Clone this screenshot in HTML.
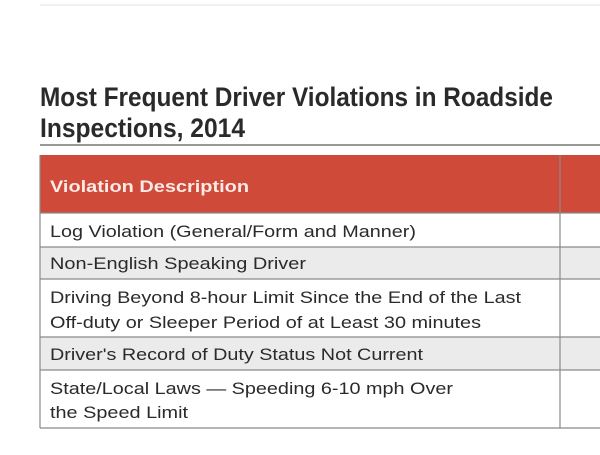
<!DOCTYPE html>
<html><head><style>body{margin:0;background:#fff}</style></head><body>
<svg width="600" height="450" xmlns="http://www.w3.org/2000/svg" font-family="Liberation Sans, sans-serif">
<rect width="600" height="450" fill="#fff"/>
<line x1="40" y1="5" x2="600" y2="5" stroke="#f0f0f0" stroke-width="2"/>
<g font-weight="bold" fill="#2a2a2a" font-size="27">
<text x="40" y="106" textLength="513" lengthAdjust="spacingAndGlyphs">Most Frequent Driver Violations in Roadside</text>
<text x="40" y="137" textLength="205" lengthAdjust="spacingAndGlyphs">Inspections, 2014</text>
</g>
<line x1="40" y1="145" x2="600" y2="145" stroke="#777" stroke-width="1.5"/>
<rect x="40" y="155" width="560" height="58" fill="#cf4a39"/>
<rect x="40" y="247" width="560" height="32" fill="#ebebeb"/>
<rect x="40" y="337" width="560" height="33" fill="#ebebeb"/>
<g stroke="#8a8a8a" stroke-width="1.2" fill="none">
<line x1="40" y1="155" x2="40" y2="428"/>
<line x1="560" y1="155" x2="560" y2="428"/>
<line x1="40" y1="247" x2="600" y2="247"/>
<line x1="40" y1="279" x2="600" y2="279"/>
<line x1="40" y1="337" x2="600" y2="337"/>
<line x1="40" y1="370" x2="600" y2="370"/>
<line x1="40" y1="428" x2="600" y2="428"/>
<line x1="40" y1="213" x2="600" y2="213"/>
</g>
<text x="50" y="192" font-size="17" font-weight="bold" fill="#fbeae6" textLength="199" lengthAdjust="spacingAndGlyphs">Violation Description</text>
<g font-size="16.5" fill="#2a2a2a">
<text x="50" y="237" textLength="366" lengthAdjust="spacingAndGlyphs">Log Violation (General/Form and Manner)</text>
<text x="50" y="269" textLength="256" lengthAdjust="spacingAndGlyphs">Non-English Speaking Driver</text>
<text x="50" y="303" textLength="471" lengthAdjust="spacingAndGlyphs">Driving Beyond 8-hour Limit Since the End of the Last</text>
<text x="50" y="328" textLength="431" lengthAdjust="spacingAndGlyphs">Off-duty or Sleeper Period of at Least 30 minutes</text>
<text x="50" y="360" textLength="373" lengthAdjust="spacingAndGlyphs">Driver's Record of Duty Status Not Current</text>
<text x="50" y="394" textLength="403" lengthAdjust="spacingAndGlyphs">State/Local Laws — Speeding 6-10 mph Over</text>
<text x="50" y="418" textLength="138" lengthAdjust="spacingAndGlyphs">the Speed Limit</text>
</g>
</svg>
</body></html>
